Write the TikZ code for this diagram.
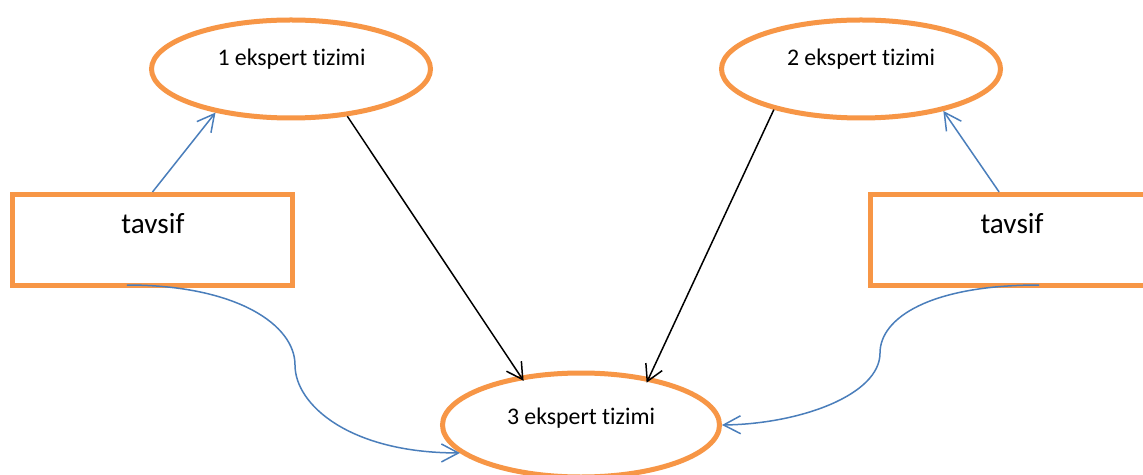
\documentclass[tikz,border=0pt]{standalone}
\usepackage{fontspec}
\setmainfont{Carlito}[Ligatures=NoCommon]
\usetikzlibrary{arrows.meta,calc,shapes.geometric}
\definecolor{accor}{HTML}{F79646}
\definecolor{accbl}{HTML}{4A7EBB}
\begin{document}
\begin{tikzpicture}[x=0.5pt,y=-0.5pt,
 ell/.style={draw=accor,line width=2.5pt,ellipse,minimum width=139.5pt,minimum height=49pt,inner sep=0pt},
 box/.style={draw=accor,line width=2.5pt,rectangle,minimum width=140pt,minimum height=45.5pt,inner sep=0pt},
 etxt/.style={font=\fontsize{11.9pt}{14pt}\selectfont,anchor=base,inner sep=0pt},
 btxt/.style={font=\fontsize{14.6pt}{17pt}\selectfont,inner sep=0pt},
 bluearr/.style={draw=accbl,line width=0.75pt,-{Straight Barb[length=8.5pt,width=9pt]}},
 blackarr/.style={draw=black,line width=0.75pt,shorten >=-3pt,-{Straight Barb[length=8pt,width=9pt]}},
]
\clip (0,0) rectangle (1143,475);
\fill[white] (0,0) rectangle (1143,475);
% ellipses
\node[ell] (e1) at (291,69) {};
\node[ell] (e2) at (861,69) {};
\node[ell,minimum width=138.5pt,minimum height=52pt] (e3) at (581,425) {};
\node[etxt] (t1) at (291.5,66) {1 ekspert tizimi};
\node[etxt] (t2) at (861,66) {2 ekspert tizimi};
\node[etxt] (t3) at (581,424) {3 ekspert tizimi};
% boxes
\node[box] (r1) at (152.5,240) {};
\node[box] (r2) at (1010.5,240) {};
\node[btxt] (b1) at (153,224) {tavsif};
\node[btxt] (b2) at (1012,224) {tavsif};
% straight connectors
\draw[bluearr] (r1.north) -- (e1.210);
\draw[bluearr] ($(r2.north west)!0.46!(r2.north east)$) -- (e2.-27);
\draw[blackarr] (e1.-40) -- (e3.141);
\draw[blackarr] (e2.205) -- (e3.35);
% curved connectors
\draw[bluearr] ($(r1.south west)!0.41!(r1.south east)+(0,-3)$) .. controls (237,285) and (295,325) .. (295,365)
  .. controls (295,405) and (350,453) .. (e3.193);
\draw[bluearr] ($(r2.south west)!0.6!(r2.south east)+(0,-3)$) .. controls (930,285) and (880,318) .. (880,353)
  .. controls (880,395) and (800,424) .. (e3.east);
\end{tikzpicture}
\end{document}
